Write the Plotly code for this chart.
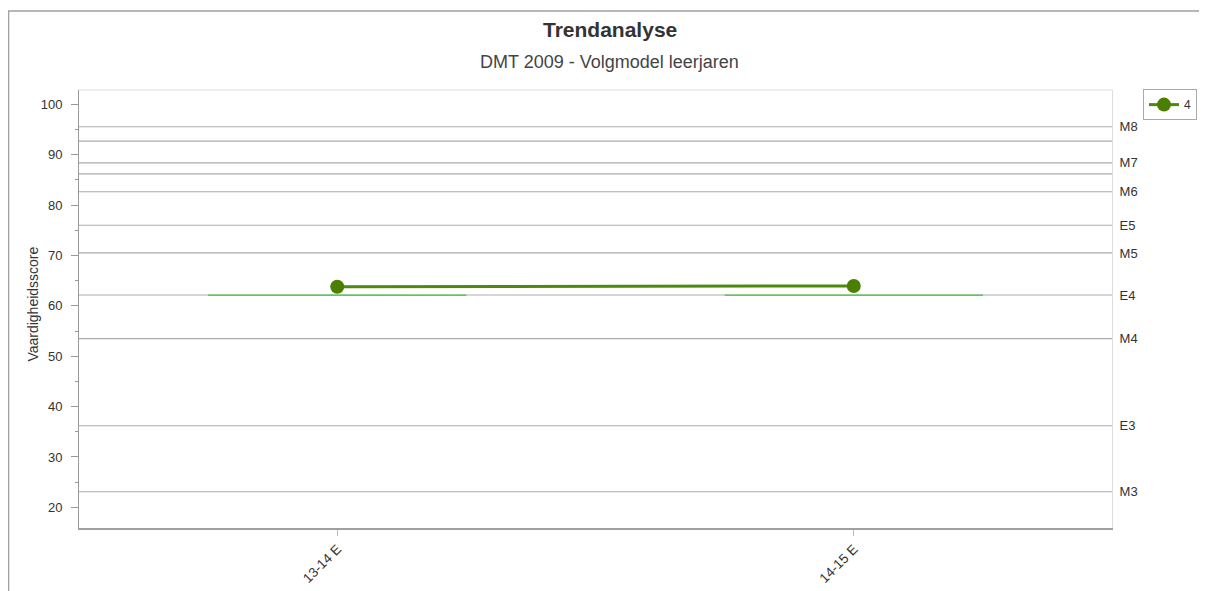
import plotly.graph_objects as go

categories = ["13-14 E", "14-15 E"]
series_name = "4"
series_values = [63.8, 63.95]
norm_values = [62.1, 62.1]
norm_half_width = 0.25

level_labels = ["M8", "M7", "M6", "E5", "M5", "E4", "M4", "E3", "M3"]
level_values = [95.55, 88.4, 82.65, 76.0, 70.5, 62.15, 53.5, 36.2, 23.1]
extra_lines = [92.7, 86.2]

y_range = [15.9, 102.85]
y_ticks = [20, 30, 40, 50, 60, 70, 80, 90, 100]

FONT = "Liberation Sans, Arial, sans-serif"
GRID = "#ababab"

fig = go.Figure()

# norm segments (light green)
for i, v in enumerate(norm_values):
    fig.add_trace(go.Scatter(
        x=[i - norm_half_width, i + norm_half_width], y=[v, v],
        mode="lines", line=dict(color="#4fd04f", width=1.5),
        showlegend=False, hoverinfo="skip", xaxis="x2"))

fig.add_trace(go.Scatter(
    x=categories, y=series_values, name=series_name,
    mode="lines+markers",
    line=dict(color="#4d8a0b", width=3),
    marker=dict(color="#4a7f00", size=14),
))

# dummy trace for the right axis
fig.add_trace(go.Scatter(x=[categories[0]], y=[level_values[0]], yaxis="y2",
                         mode="markers", marker=dict(opacity=0),
                         showlegend=False, hoverinfo="skip"))

fig.update_layout(
    width=1199, height=583,
    margin=dict(l=71, r=95, t=82, b=63, autoexpand=False),
    paper_bgcolor="white", plot_bgcolor="white",
    font=dict(family=FONT, size=13, color="#333333"),
    xaxis=dict(
        type="category", range=[-0.5, 1.5], automargin=False,
        showgrid=False, zeroline=False,
        showline=True, linecolor="#a0a0a0", linewidth=2,
        ticks="outside", ticklen=6, tickcolor="#bbbbbb",
        tickangle=-45, tickfont=dict(size=13.5, color="#333333"),
    ),
    xaxis2=dict(range=[-0.5, 1.5], overlaying="x", visible=False),
    yaxis=dict(
        range=y_range, tickvals=y_ticks, automargin=False,
        showgrid=False, zeroline=False,
        showline=True, linecolor="#999999", linewidth=1,
        ticks="outside", ticklen=7, tickcolor="#999999",
        minor=dict(dtick=5, ticks="outside", ticklen=3, tickcolor="#999999"),
        tickfont=dict(size=13, color="#333333"),
        ticklabelstandoff=6,
    ),
    yaxis2=dict(
        range=y_range, overlaying="y", side="right", automargin=False,
        tickvals=level_values, ticktext=level_labels,
        showgrid=False, zeroline=False,
        showline=True, linecolor="#dddddd", linewidth=1,
        ticks="", tickfont=dict(size=13, color="#333333"),
        ticklabelstandoff=4,
    ),
    legend=dict(
        x=1.03, y=1.002, xanchor="left", yanchor="top",
        bordercolor="#aaaaaa", borderwidth=1,
        font=dict(size=12, color="#333333"),
        itemwidth=30,
    ),
    showlegend=True,
)

# reference level lines
for v in level_values + extra_lines:
    fig.add_hline(y=v, line=dict(color=GRID, width=1.2), layer="below")

fig.add_shape(type="line", xref="paper", yref="paper", x0=0, x1=1, y0=1, y1=1,
              line=dict(color="#dddddd", width=1))
fig.add_shape(type="rect", xref="paper", yref="paper", x0=-0.0682, x1=1.3,
              y0=-0.3, y1=1.1804, line=dict(color="#a0a0a0", width=1.5))

fig.add_annotation(text="<b>Trendanalyse</b>", xref="paper", yref="paper",
                   x=0.514, y=1.137, xanchor="center", yanchor="middle", showarrow=False,
                   font=dict(size=21, color="#333333"))
fig.add_annotation(text="DMT 2009 - Volgmodel leerjaren", xref="paper", yref="paper",
                   x=0.514, y=1.064, xanchor="center", yanchor="middle", showarrow=False,
                   font=dict(size=18, color="#444444"))
fig.add_annotation(text="Vaardigheidsscore", xref="paper", yref="paper",
                   x=0, xshift=-46, y=0.51, xanchor="center", yanchor="middle",
                   textangle=-90, showarrow=False,
                   font=dict(size=14, color="#333333"))

fig.write_html("out.html")
